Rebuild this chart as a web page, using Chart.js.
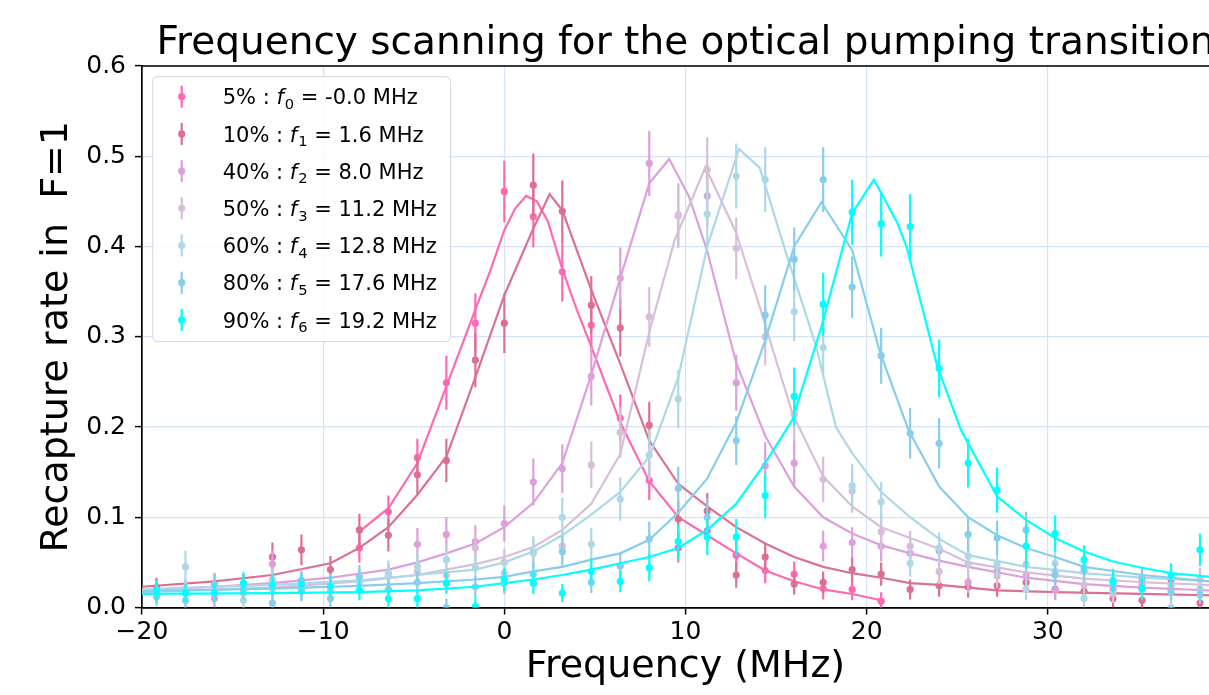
<!DOCTYPE html>
<html>
<head>
<meta charset="utf-8">
<script src="https://cdn.jsdelivr.net/npm/chart.js@4.4.1/dist/chart.umd.min.js"></script>
<style>
html,body{margin:0;padding:0;background:#fff;overflow:hidden;width:1209px;height:695px}
canvas{display:block}
</style>
</head>
<body>
<canvas id="chart" width="1232" height="695" style="width:1232px;height:695px"></canvas>
<script>
// measured points (MHz)
const freqs=[-19.2,-17.6,-16,-14.4,-12.8,-11.2,-9.6,-8,-6.4,-4.8,-3.2,-1.6,0,1.6,3.2,4.8,6.4,8,9.6,11.2,12.8,14.4,16,17.6,19.2,20.8,22.4,24,25.6,27.2,28.8,30.4,32,33.6,35.2,36.8,38.4];

const rate5=[null,null,null,null,null,null,null,0.066,0.106,0.166,0.249,0.315,0.461,0.433,0.372,0.313,0.210,0.141,0.066,0.085,0.058,0.041,0.037,0.021,0.020,0.007,null,null,null,null,null,null,null,null,null,null,null];
const err5=[null,null,null,null,null,null,null,0.016,0.018,0.021,0.030,0.033,0.034,0.034,0.033,0.030,0.026,0.022,0.016,0.017,0.016,0.014,0.014,0.012,0.012,0.010,null,null,null,null,null,null,null,null,null,null,null];

const rate10=[0.022,0.020,0.026,0.025,0.056,0.064,0.042,0.086,0.080,0.147,0.163,0.274,0.315,0.468,0.439,0.335,0.310,0.202,0.098,0.107,0.036,0.056,0.026,0.028,0.042,0.037,0.020,0.024,0.023,0.024,0.028,0.020,0.018,0.010,0.008,0.031,0.005];
const err10=[0.011,0.011,0.012,0.012,0.016,0.017,0.015,0.018,0.018,0.022,0.024,0.030,0.033,0.035,0.034,0.032,0.032,0.026,0.020,0.020,0.014,0.015,0.012,0.012,0.014,0.013,0.011,0.012,0.012,0.012,0.012,0.011,0.011,0.010,0.010,0.012,0.010];

const rate40=[0.018,0.020,0.010,0.020,0.048,0.030,0.025,0.030,0.035,0.070,0.081,0.073,0.093,0.139,0.154,0.256,0.365,0.492,0.434,0.456,0.249,0.157,0.160,0.068,0.072,0.068,0.060,0.063,0.028,0.040,0.035,0.019,0.040,0.020,0.025,0.020,0.020];
const err40=[0.011,0.011,0.010,0.011,0.015,0.013,0.012,0.013,0.013,0.018,0.019,0.018,0.020,0.026,0.027,0.032,0.034,0.036,0.035,0.035,0.031,0.026,0.026,0.017,0.017,0.017,0.016,0.016,0.012,0.013,0.013,0.011,0.013,0.011,0.012,0.011,0.011];

const rate50=[0.015,0.018,0.020,0.016,0.031,0.020,0.025,0.028,0.035,0.040,0.036,0.066,0.050,0.060,0.068,0.158,0.194,0.322,0.435,0.485,0.398,0.300,0.214,0.142,0.129,0.084,0.068,0.040,0.048,0.035,0.048,0.040,0.025,0.015,0.030,0.025,0.031];
const err50=[0.010,0.011,0.011,0.010,0.013,0.011,0.012,0.013,0.013,0.014,0.013,0.017,0.015,0.016,0.017,0.026,0.028,0.033,0.035,0.036,0.034,0.032,0.029,0.025,0.024,0.020,0.017,0.014,0.015,0.013,0.015,0.014,0.012,0.010,0.013,0.012,0.013];

const rate60=[0.014,0.045,0.025,0.008,0.020,0.020,0.018,0.030,0.038,0.046,0.053,0.044,0.038,0.062,0.100,0.070,0.120,0.169,0.231,0.436,0.478,0.474,0.328,0.288,0.135,0.117,0.049,0.066,0.057,0.048,0.020,0.049,0.010,0.030,0.020,0.000,0.020];
const err60=[0.010,0.018,0.012,0.010,0.011,0.011,0.011,0.013,0.014,0.015,0.016,0.015,0.014,0.017,0.022,0.018,0.024,0.028,0.032,0.036,0.036,0.036,0.033,0.031,0.024,0.022,0.015,0.017,0.016,0.015,0.012,0.015,0.010,0.013,0.011,0.010,0.011];

const rate80=[0.012,0.008,0.025,0.020,0.005,0.018,0.010,0.034,0.020,0.028,0.000,0.023,0.027,0.037,0.062,0.028,0.046,0.076,0.132,0.100,0.185,0.324,0.386,0.474,0.355,0.279,0.193,0.182,0.081,0.077,0.086,0.036,0.044,0.030,0.032,0.017,0.014];
const err80=[0.010,0.010,0.012,0.011,0.010,0.011,0.010,0.013,0.011,0.012,0.010,0.012,0.012,0.014,0.017,0.012,0.015,0.019,0.024,0.021,0.027,0.033,0.035,0.036,0.034,0.031,0.028,0.028,0.019,0.019,0.020,0.013,0.015,0.013,0.013,0.011,0.010];

const rate90=[0.019,0.016,0.016,0.027,0.025,0.026,0.023,0.019,0.010,0.010,0.027,0.001,0.031,0.027,0.016,0.040,0.029,0.044,0.073,0.078,0.078,0.124,0.234,0.336,0.438,0.425,0.422,0.265,0.160,0.130,0.068,0.082,0.053,0.028,0.021,0.036,0.064];
const err90=[0.011,0.010,0.010,0.012,0.012,0.012,0.012,0.011,0.010,0.010,0.012,0.010,0.013,0.012,0.010,0.014,0.012,0.015,0.019,0.020,0.020,0.025,0.032,0.035,0.036,0.036,0.036,0.032,0.027,0.025,0.025,0.020,0.016,0.012,0.011,0.013,0.018];

// fitted curves
const fit5X=[-8,-6.4,-4.8,-3.2,-1.6,-0.8,0,0.6,1.2,1.8,2.4,3.2,4,4.8,6.4,8,9.6,11.2,12.8,14.4,16,17.6,19.2,20.8];
const fit5Y=[0.084,0.110,0.160,0.245,0.330,0.372,0.418,0.442,0.456,0.450,0.428,0.375,0.330,0.289,0.205,0.140,0.100,0.080,0.060,0.041,0.029,0.020,0.015,0.008];

const fit10X=[-20,-16,-12.8,-9.6,-8,-6.4,-4.8,-3.2,-1.6,0,1.6,2.5,3.2,4.8,6.4,8,9.6,11.2,12.8,14.4,16,17.6,19.2,20.8,22.4,24,27.2,30.4,35.2,40];
const fit10Y=[0.023,0.029,0.036,0.049,0.066,0.089,0.125,0.167,0.255,0.346,0.420,0.458,0.440,0.352,0.270,0.185,0.137,0.112,0.089,0.071,0.056,0.045,0.038,0.033,0.027,0.025,0.019,0.017,0.015,0.013];

const fit40X=[-20,-16,-12.8,-9.6,-6.4,-4.8,-3.2,-1.6,0,1.6,3.2,4.8,6.4,8,9.1,10.2,11.2,12.8,14.4,16,17.6,19.2,20.8,22.4,24,25.6,28.8,32,35.2,40];
const fit40Y=[0.019,0.023,0.027,0.033,0.042,0.050,0.060,0.071,0.089,0.116,0.160,0.258,0.365,0.470,0.497,0.455,0.395,0.271,0.190,0.134,0.100,0.082,0.069,0.060,0.052,0.045,0.033,0.026,0.022,0.018];

const fit50X=[-20,-12.8,-8,-4.8,-1.6,0,1.6,3.2,4.8,6.4,8,9.4,11.1,12.8,14.1,15.9,17.6,19.2,20.8,22.4,24,25.6,28.8,32,35.2,40];
const fit50Y=[0.017,0.022,0.029,0.036,0.048,0.056,0.067,0.086,0.115,0.170,0.305,0.407,0.488,0.415,0.333,0.215,0.145,0.112,0.089,0.077,0.065,0.050,0.039,0.032,0.028,0.024];

const fit60X=[-20,-12.8,-8,-4.8,-1.6,0,1.6,3.2,4.8,6.4,8,9.6,11.2,12.95,14.1,15.5,17.2,18.3,19.2,20.8,22.4,24,25.6,28.8,32,35.2,40];
const fit60Y=[0.020,0.025,0.030,0.036,0.042,0.050,0.062,0.080,0.103,0.128,0.167,0.255,0.400,0.508,0.487,0.396,0.290,0.200,0.171,0.128,0.100,0.076,0.058,0.045,0.038,0.033,0.028];

const fit80X=[-20,-12.8,-8,-4.8,-1.6,0,1.6,3.2,4.8,6.4,8,9.6,11.2,12.8,14.4,16,17.5,19.2,20.7,22.3,24,25.6,27.2,28.8,30.4,32,35.2,40];
const fit80Y=[0.018,0.021,0.024,0.027,0.031,0.034,0.040,0.045,0.053,0.060,0.075,0.105,0.143,0.205,0.296,0.400,0.449,0.396,0.285,0.197,0.134,0.100,0.080,0.066,0.056,0.045,0.036,0.027];

const fit90X=[-20,-12.8,-8,-4.8,-1.6,0,1.6,3.2,4.8,6.4,8,9.6,11.2,12.8,14.4,15.9,17.5,18.7,19.2,20.4,21.7,22.2,23.9,25.2,27.2,28.8,30.4,32,33.6,35.2,36.8,40];
const fit90Y=[0.015,0.016,0.017,0.019,0.023,0.027,0.031,0.036,0.042,0.049,0.056,0.066,0.086,0.115,0.160,0.208,0.311,0.400,0.437,0.474,0.426,0.400,0.267,0.197,0.123,0.097,0.077,0.062,0.051,0.044,0.038,0.032];

const powers=['5%','10%','40%','50%','60%','80%','90%'];
const centres=['-0.0','1.6','8.0','11.2','12.8','17.6','19.2'];
const colors=['#ff69b4','#db7093','#dda0dd','#d8bfd8','#add8e6','#87ceeb','#00ffff'];

const rates=[rate5,rate10,rate40,rate50,rate60,rate80,rate90];
const errs=[err5,err10,err40,err50,err60,err80,err90];
const fitXs=[fit5X,fit10X,fit40X,fit50X,fit60X,fit80X,fit90X];
const fitYs=[fit5Y,fit10Y,fit40Y,fit50Y,fit60Y,fit80Y,fit90Y];

const FONT='"DejaVu Sans", sans-serif';
Chart.defaults.font.family=FONT;
Chart.defaults.color='#000';

const datasets=[];
rates.forEach((r,i)=>{
  const pts=[];
  freqs.forEach((f,j)=>{ if(r[j]!==null) pts.push({x:f,y:r[j],e:errs[i][j]}); });
  datasets.push({
    data:pts, isPoints:true, showLine:false,
    backgroundColor:colors[i], borderWidth:0,
    pointRadius:3.6, pointHoverRadius:3.6,
    order:(6-i)*2+1, clip:0
  });
  datasets.push({
    data:fitXs[i].map((x,k)=>({x:x,y:fitYs[i][k]})),
    showLine:true, borderColor:colors[i], borderWidth:2.2,
    pointRadius:0, tension:0, fill:false,
    order:(6-i)*2, clip:0
  });
});

// vertical error bars, drawn just before each point set
const errorBars={
  id:'errorBars',
  beforeDatasetDraw(chart,args){
    const ds=chart.data.datasets[args.index];
    if(!ds.isPoints) return;
    const {ctx,chartArea:a,scales:{x,y}}=chart;
    ctx.save();
    ctx.beginPath(); ctx.rect(a.left,a.top,a.right-a.left,a.bottom-a.top); ctx.clip();
    ctx.strokeStyle=ds.backgroundColor; ctx.lineWidth=2.2;
    ctx.beginPath();
    ds.data.forEach(p=>{
      const px=x.getPixelForValue(p.x);
      ctx.moveTo(px,y.getPixelForValue(p.y-p.e));
      ctx.lineTo(px,y.getPixelForValue(p.y+p.e));
    });
    ctx.stroke();
    ctx.restore();
  }
};

// title, top spine and legend
const decor={
  id:'decor',
  afterDraw(chart){
    const {ctx,chartArea:a}=chart;
    ctx.save();
    ctx.strokeStyle='#000'; ctx.lineWidth=1.7;
    ctx.beginPath(); ctx.moveTo(a.left,a.top); ctx.lineTo(a.right,a.top); ctx.lineTo(a.right,a.bottom); ctx.stroke();

    ctx.fillStyle='#000';
    ctx.font='39px '+FONT; ctx.textAlign='center'; ctx.textBaseline='alphabetic';
    ctx.fillText('Frequency scanning for the optical pumping transition',(a.left+a.right)/2,54);

    // legend
    const x0=a.left+10.7, y0=a.top+10.7, w=298, h=265;
    ctx.fillStyle='rgba(255,255,255,0.85)'; ctx.strokeStyle='#d6d6d6'; ctx.lineWidth=1;
    ctx.beginPath(); ctx.roundRect(x0,y0,w,h,5); ctx.fill(); ctx.stroke();
    ctx.textAlign='left';
    powers.forEach((p,i)=>{
      const cy=y0+20+i*37.2;
      ctx.strokeStyle=colors[i]; ctx.lineWidth=2.2;
      ctx.beginPath(); ctx.moveTo(x0+29,cy-11); ctx.lineTo(x0+29,cy+11); ctx.stroke();
      ctx.fillStyle=colors[i];
      ctx.beginPath(); ctx.arc(x0+29,cy,3.6,0,Math.PI*2); ctx.fill();
      ctx.fillStyle='#000';
      const base=cy+7.7;
      let tx=x0+70;
      ctx.font='21px '+FONT;
      const s1=p+' : ';
      ctx.fillText(s1,tx,base); tx+=ctx.measureText(s1).width;
      ctx.font='italic 21px '+FONT;
      ctx.fillText('f',tx,base); tx+=ctx.measureText('f').width+1;
      ctx.font='14.7px '+FONT;
      ctx.fillText(String(i),tx,base+4.5); tx+=ctx.measureText(String(i)).width;
      ctx.font='21px '+FONT;
      ctx.fillText(' = '+centres[i]+' MHz',tx,base);
    });
    ctx.restore();
  }
};

new Chart(document.getElementById('chart'),{
  type:'scatter',
  data:{datasets:datasets},
  options:{
    responsive:false, animation:false, devicePixelRatio:1,
    layout:{padding:{top:66,right:2,bottom:0,left:0},autoPadding:false},
    plugins:{legend:{display:false},tooltip:{enabled:false}},
    scales:{
      x:{
        type:'linear', min:-20, max:40,
        afterFit(s){ s.height=87.5; },
        ticks:{stepSize:10, font:{size:25}, padding:3,
          callback:v=> v===40 ? '' : (v<0 ? '\u2212'+Math.abs(v) : String(v))},
        grid:{color:'#d4e3f7', lineWidth:1.2, tickColor:'#000', tickLength:7, tickWidth:1.5},
        border:{color:'#000', width:1.7},
        title:{display:true, text:'Frequency (MHz)', font:{size:38,lineHeight:1.2}, padding:{top:0,bottom:5}}
      },
      y:{
        min:0, max:0.6,
        afterFit(s){ s.width=142; },
        ticks:{stepSize:0.1, font:{size:25}, padding:9, callback:v=>v.toFixed(1)},
        grid:{color:'#d4e3f7', lineWidth:1.2, tickColor:'#000', tickLength:7, tickWidth:1.5},
        border:{color:'#000', width:1.7},
        title:{display:true, text:'Recapture rate in  F=1', font:{size:38,lineHeight:1.2}, padding:{top:34,bottom:0}}
      }
    }
  },
  plugins:[errorBars,decor]
});
</script>
</body>
</html>
